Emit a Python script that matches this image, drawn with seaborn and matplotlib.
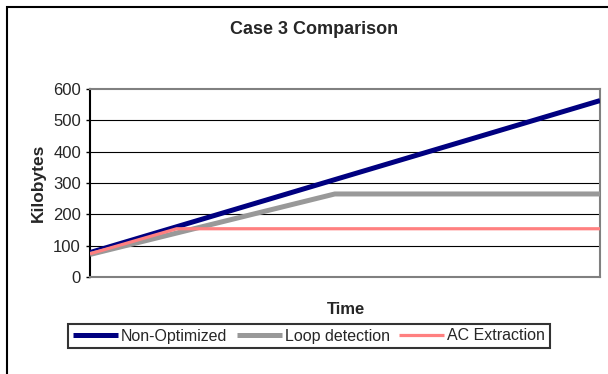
import numpy as np
import pandas as pd
import matplotlib
matplotlib.use("Agg")
import matplotlib.pyplot as plt
import matplotlib.patches as mpatches
import seaborn as sns

# ---- data ----
series_names = ["Non-Optimized", "Loop detection", "AC Extraction"]
nonopt_time = [0, 100]
nonopt_kb = [78, 563]
loop_time = [0, 48, 100]
loop_kb = [72, 265, 265]
ac_time = [0, 17, 100]
ac_kb = [74, 154, 154]
y_ticks = [0, 100, 200, 300, 400, 500, 600]

colors = {"Non-Optimized": "#000080", "Loop detection": "#999999", "AC Extraction": "#FF8080"}
widths = {"Non-Optimized": 3.6, "Loop detection": 3.6, "AC Extraction": 2.3}

df = pd.concat([
    pd.DataFrame({"Time": nonopt_time, "Kilobytes": nonopt_kb, "Series": series_names[0]}),
    pd.DataFrame({"Time": loop_time, "Kilobytes": loop_kb, "Series": series_names[1]}),
    pd.DataFrame({"Time": ac_time, "Kilobytes": ac_kb, "Series": series_names[2]}),
], ignore_index=True)

sns.set_theme(style="white")
plt.rcParams["font.family"] = ["Liberation Sans", "DejaVu Sans"]

W, H = 608, 374
fig = plt.figure(figsize=(W / 100, H / 100), dpi=100)
ax = fig.add_axes([90 / W, 1 - 277 / H, 510 / W, 188 / H])

for name in series_names:
    sub = df[df["Series"] == name]
    sns.lineplot(data=sub, x="Time", y="Kilobytes", ax=ax, color=colors[name],
                 linewidth=widths[name], label=name, legend=False,
                 solid_capstyle="butt", zorder=3)

ax.set_xlim(0, 100)
ax.set_ylim(0, 600)
ax.set_yticks(y_ticks)
ax.set_yticklabels([str(v) for v in y_ticks], fontsize=12)
ax.set_xticks([])
ax.tick_params(axis="y", direction="out", length=3, width=1, color="black", pad=3.5, left=True)
for v in y_ticks[1:-1]:
    ax.axhline(v, color="black", linewidth=0.8, zorder=1)

for side in ["top", "right", "bottom"]:
    ax.spines[side].set_color("#808080")
    ax.spines[side].set_linewidth(1.5)
ax.spines["left"].set_color("black")
ax.spines["left"].set_linewidth(1.5)

ax.set_xlabel("Time", fontsize=12, fontweight="bold")
ax.set_ylabel("Kilobytes", fontsize=12.5, fontweight="bold")
ax.xaxis.set_label_coords((346 - 90) / 510, (277 - 309) / 188)
ax.yaxis.set_label_coords((38 - 90) / 510, 0.5)
ax.xaxis.label.set_va("center")
ax.yaxis.label.set_va("center")

fig.text(314 / W, 1 - 30 / H, "Case 3 Comparison", fontsize=13, fontweight="bold",
         ha="center", va="center")

handles, labels = ax.get_legend_handles_labels()
leg = fig.legend(handles, labels, loc="center", bbox_to_anchor=(309 / W, 1 - 336 / H),
                 ncol=3, fontsize=11.5, frameon=True, fancybox=False,
                 handlelength=2.8, handletextpad=0.2, columnspacing=0.6,
                 borderpad=0.3)
leg.get_frame().set_edgecolor("black")
leg.get_frame().set_linewidth(1.5)

# outer chart frame (left and top edges visible)
frame = mpatches.Rectangle((7 / W, -0.2), 1.5, 1 - 7 / H + 0.2, transform=fig.transFigure,
                           fill=False, edgecolor="black", linewidth=1.5, clip_on=False)
fig.patches.append(frame)

fig.savefig("out.png", dpi=100)
